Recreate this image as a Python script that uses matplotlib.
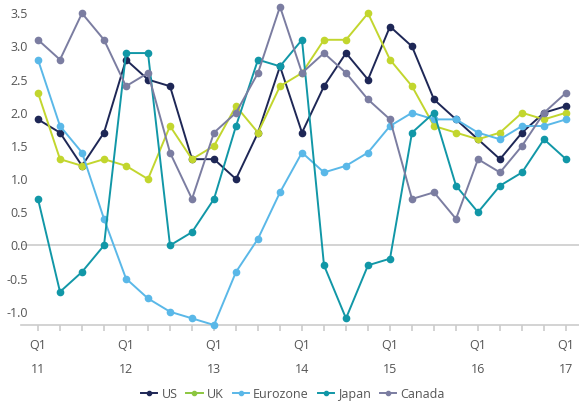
import matplotlib
matplotlib.use("Agg")
import matplotlib.pyplot as plt
from matplotlib.lines import Line2D

plt.rcParams['font.family'] = ['Open Sans', 'DejaVu Sans']

# Quarterly series, Q1 2011 .. Q1 2017
years = ["11", "12", "13", "14", "15", "16", "17"]
us = [1.9, 1.7, 1.2, 1.7, 2.8, 2.5, 2.4, 1.3, 1.3, 1.0, 1.7, 2.7, 1.7,
      2.4, 2.9, 2.5, 3.3, 3.0, 2.2, 1.9, 1.6, 1.3, 1.7, 2.0, 2.1]
uk = [2.3, 1.3, 1.2, 1.3, 1.2, 1.0, 1.8, 1.3, 1.5, 2.1, 1.7, 2.4, 2.6,
      3.1, 3.1, 3.5, 2.8, 2.4, 1.8, 1.7, 1.6, 1.7, 2.0, 1.9, 2.0]
eurozone = [2.8, 1.8, 1.4, 0.4, -0.5, -0.8, -1.0, -1.1, -1.2, -0.4, 0.1, 0.8, 1.4,
            1.1, 1.2, 1.4, 1.8, 2.0, 1.9, 1.9, 1.7, 1.6, 1.8, 1.8, 1.9]
japan = [0.7, -0.7, -0.4, 0.0, 2.9, 2.9, 0.0, 0.2, 0.7, 1.8, 2.8, 2.7, 3.1,
         -0.3, -1.1, -0.3, -0.2, 1.7, 2.0, 0.9, 0.5, 0.9, 1.1, 1.6, 1.3]
canada = [3.1, 2.8, 3.5, 3.1, 2.4, 2.6, 1.4, 0.7, 1.7, 2.0, 2.6, 3.6, 2.6,
          2.9, 2.6, 2.2, 1.9, 0.7, 0.8, 0.4, 1.3, 1.1, 1.5, 2.0, 2.3]

series = [
    ("US", us, "#1e2756", "#1e2756"),
    ("UK", uk, "#c2d62e", "#8cc63f"),
    ("Eurozone", eurozone, "#5ab8e8", "#5ab8e8"),
    ("Japan", japan, "#1197a7", "#1197a7"),
    ("Canada", canada, "#7b7da1", "#7b7da1"),
]

fig = plt.figure(figsize=(5.79, 4.05), dpi=100)
ax = fig.add_axes([21 / 579, 80 / 405, 558 / 579, 325 / 405])

x = list(range(len(us)))
for name, vals, color, _ in series:
    ax.plot(x, vals, color=color, lw=1.4, marker="o", ms=4.5, zorder=3, clip_on=False)

ax.axhline(0, color="#cccccc", lw=1.2, zorder=1)

ax.set_xlim(-17 / 22, 541 / 22)
ax.set_ylim(-1.2, 3.7)

for s in ["top", "right", "left"]:
    ax.spines[s].set_visible(False)
ax.spines["bottom"].set_color("#cccccc")
ax.spines["bottom"].set_linewidth(1.2)

text_color = "#555555"
yt = [-1.0, -0.5, 0.0, 0.5, 1.0, 1.5, 2.0, 2.5, 3.0, 3.5]
ax.set_yticks(yt)
ax.set_yticklabels([f"{v:.1f}" for v in yt])
ax.tick_params(axis="y", length=0, pad=-5, labelsize=9, labelcolor=text_color)
for lab in ax.get_yticklabels():
    lab.set_horizontalalignment("right")

ax.set_xticks(x)
ax.set_xticklabels(["Q1\n" + years[i // 4] if i % 4 == 0 else "" for i in x],
                   linespacing=2.1)
ax.tick_params(axis="x", length=4, width=1.2, color="#cccccc", pad=6,
               labelsize=9, labelcolor=text_color)

handles = [Line2D([0], [0], color=lc, lw=1.4, marker="o", ms=3)
           for _, _, _, lc in series]
fig.legend(handles, [s[0] for s in series], loc="center", bbox_to_anchor=(0.506, 0.027),
           ncol=5, frameon=False, fontsize=9, handlelength=1.3, handletextpad=0.35,
           columnspacing=0.7, labelcolor=text_color)

fig.savefig("out.png", dpi=100)
